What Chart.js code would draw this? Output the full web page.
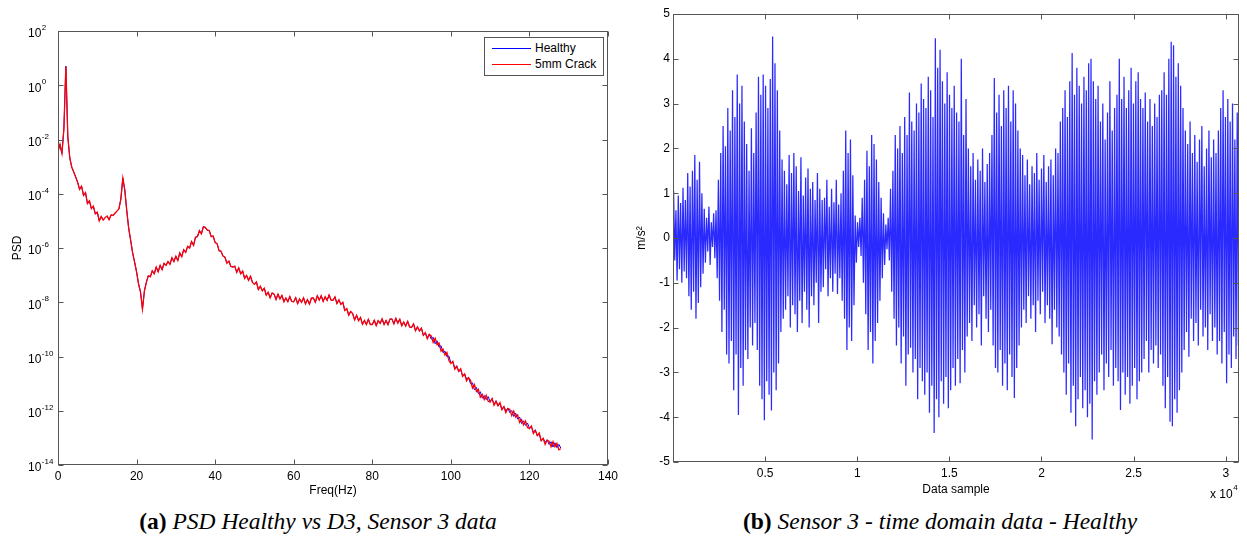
<!DOCTYPE html>
<html>
<head>
<meta charset="utf-8">
<script src="https://cdn.jsdelivr.net/npm/chart.js@4.4.0/dist/chart.umd.min.js"></script>
<style>
  body { margin: 0; background: #fff; width: 1247px; height: 536px; position: relative; overflow: hidden;
         font-family: "Liberation Sans", Arial, sans-serif; }
  #psdWrap { position: absolute; left: 0; top: 0; width: 625px; height: 500px; }
  #timeWrap { position: absolute; left: 625px; top: 0; width: 622px; height: 500px; }
  .caption { position: absolute; top: 507px; line-height: 28px; white-space: nowrap; transform: translateX(-50%);
             font-family: "Liberation Serif", "Times New Roman", serif; font-size: 23.5px; color: #000; }
  .caption i { font-style: italic; }
  #legend { position: absolute; left: 484px; top: 37px; width: 118px; height: 37px; background: #fff;
            border: 1px solid #555; font-size: 12px; color: #000; }
  #legend .row { position: absolute; left: 0; height: 14px; line-height: 14px; }
  #legend .swatch { position: absolute; left: 7px; top: 7px; width: 39px; height: 0; border-top: 1px solid; }
  #legend .label { position: absolute; left: 50px; top: 0; white-space: nowrap; }
</style>
</head>
<body>
<div id="psdWrap"><canvas id="psdChart" width="625" height="500"></canvas></div>
<div id="timeWrap"><canvas id="timeChart" width="622" height="500"></canvas></div>

<div id="legend">
  <div class="row" style="top:3px"><span class="swatch" style="border-color:#0000ff"></span><span class="label">Healthy</span></div>
  <div class="row" style="top:19px"><span class="swatch" style="border-color:#ff0000"></span><span class="label">5mm Crack</span></div>
</div>

<div class="caption" style="left:318px"><b>(a)</b> <i>PSD Healthy vs D3, Sensor 3 data</i></div>
<div class="caption" style="left:940px"><b>(b)</b> <i>Sensor 3 - time domain data - Healthy</i></div>

<script>
// PSD, every 0.5 Hz, stored as log10(PSD)
const psdStep = 0.5;
// 0 - 94.5 Hz: both curves sit on top of each other
const psdSharedExp = [
  -2.45, -2.18, -2.52, -1.6, 0.7, -1.9, -2.68, -3.02, -3.2, -3.38,
  -3.58, -3.84, -3.72, -4.06, -3.96, -4.36, -4.26, -4.55, -4.46, -4.74,
  -4.68, -5.0, -4.84, -4.97, -4.88, -4.82, -4.96, -4.78, -4.8, -4.72,
  -4.64, -4.56, -4.2, -3.42, -3.86, -4.62, -5.28, -5.72, -6.18, -6.52,
  -6.88, -7.32, -7.62, -8.25, -7.58, -7.26, -7.02, -7.06, -6.84, -6.95,
  -6.7, -6.88, -6.64, -6.8, -6.56, -6.64, -6.5, -6.6, -6.36, -6.5,
  -6.3, -6.46, -6.18, -6.32, -6.06, -6.16, -5.94, -6.0, -5.76, -5.9,
  -5.6, -5.58, -5.36, -5.48, -5.22, -5.24, -5.34, -5.36, -5.58, -5.56,
  -5.8, -5.84, -6.1, -6.12, -6.3, -6.34, -6.56, -6.48, -6.68, -6.7,
  -6.67, -6.9, -6.73, -6.95, -6.85, -7.12, -7.01, -7.19, -7.04, -7.27,
  -7.34, -7.25, -7.53, -7.41, -7.58, -7.48, -7.74, -7.63, -7.84, -7.66,
  -7.7, -7.9, -7.7, -7.88, -7.75, -7.98, -7.84, -7.98, -7.79, -7.97,
  -7.98, -7.83, -8.05, -7.88, -8.0, -7.84, -8.06, -7.9, -8.07, -7.85,
  -7.84, -8.0, -7.76, -7.92, -7.76, -7.97, -7.8, -7.93, -7.73, -7.92,
  -7.93, -7.8, -8.05, -7.91, -8.08, -8.0, -8.3, -8.23, -8.48, -8.34,
  -8.42, -8.65, -8.48, -8.68, -8.56, -8.81, -8.67, -8.82, -8.63, -8.82,
  -8.82, -8.66, -8.86, -8.68, -8.78, -8.61, -8.82, -8.67, -8.83, -8.62,
  -8.62, -8.8, -8.59, -8.77, -8.63, -8.87, -8.73, -8.88, -8.7, -8.91,
  -8.93, -8.8, -9.05, -8.91, -9.06, -8.95, -9.22, -9.12, -9.34, -9.18
];
// 95 - 128 Hz, where the two curves separate a little
const psdHealthyTailExp = [
  -9.36, -9.29, -9.53, -9.42, -9.66, -9.6, -9.86, -9.8, -10.01, -9.98,
  -10.24, -10.19, -10.44, -10.34, -10.56, -10.49, -10.73, -10.64, -10.83, -10.77,
  -11.0, -10.97, -11.23, -11.14, -11.37, -11.3, -11.54, -11.44, -11.59, -11.48,
  -11.66, -11.56, -11.77, -11.63, -11.83, -11.74, -11.96, -11.84, -12.0, -11.9,
  -12.07, -11.99, -12.21, -12.09, -12.31, -12.23, -12.47, -12.37, -12.54, -12.45,
  -12.64, -12.57, -12.81, -12.7, -12.93, -12.86, -13.11, -13.01, -13.17, -13.07,
  -13.24, -13.14, -13.34, -13.18, -13.36, -13.24, -13.38
];
const psdCrackTailExp = [
  -9.24, -9.48, -9.33, -9.57, -9.5, -9.8, -9.72, -9.95, -9.85, -10.15,
  -10.26, -10.18, -10.47, -10.37, -10.54, -10.45, -10.73, -10.65, -10.9, -10.78,
  -10.88, -11.16, -11.03, -11.29, -11.21, -11.5, -11.4, -11.59, -11.43, -11.65,
  -11.68, -11.55, -11.8, -11.66, -11.81, -11.7, -11.96, -11.85, -12.07, -11.91,
  -11.95, -12.18, -12.01, -12.24, -12.15, -12.43, -12.33, -12.52, -12.38, -12.62,
  -12.66, -12.56, -12.84, -12.73, -12.91, -12.82, -13.11, -13.02, -13.24, -13.08,
  -13.12, -13.33, -13.14, -13.33, -13.2, -13.44, -13.4
];
const freqTicks = [0, 20, 40, 60, 80, 100, 120, 140];
const psdTicks = [1e-14, 1e-12, 1e-10, 1e-8, 1e-6, 1e-4, 1e-2, 1e0, 1e2];

// time signal (m/s^2): one positive and one negative swing per 128 samples
const cycleLength = 128;
const swingPeaks = [
  1.05, 0.62, 0.95, 0.78, 1.12, 0.85,
  1.45, 1.15, 1.5, 1.85, 1.3, 1.7,
  1.0, 0.65, 0.45, 0.7, 0.35, 0.55, 0.62,
  1.3, 1.9, 2.5, 2.05,
  2.9, 2.4, 3.3, 2.7, 3.65, 3.0, 3.4, 2.6,
  2.1, 1.5, 2.45, 1.9,
  2.8, 3.6, 3.2, 3.65, 3.4, 2.9, 3.55, 4.5, 3.9, 3.3,
  2.4, 1.75, 1.5, 1.2, 1.85, 1.45,
  1.9, 1.6, 1.05, 1.8, 0.95, 1.35, 1.55, 1.1,
  1.25, 0.85, 1.45, 1.1,
  0.85, 0.9, 1.3, 0.7, 1.1, 0.8, 1.3, 0.75, 1.0,
  1.5, 2.4, 1.9, 2.2, 1.4,
  0.5, 0.35, 0.45,
  0.9, 1.3, 1.95, 1.6, 2.3, 2.1, 1.75, 1.25, 0.9,
  0.55, 0.3, 0.45,
  1.1, 1.5, 2.3, 2.0, 2.5, 1.9, 2.7, 2.3, 3.25, 2.6, 2.4, 3.0, 2.8, 3.45,
  3.1, 2.9, 3.6, 3.3, 2.7, 4.46, 3.8, 4.2, 3.5, 3.0, 3.7, 3.2, 2.9, 3.4, 2.8,
  2.6, 4.0, 2.3, 3.1,
  2.0, 1.6, 1.9, 1.3, 1.75, 1.5, 2.0, 1.25, 1.65, 1.9,
  2.3, 3.57, 2.8, 3.2, 2.5, 3.3, 2.9, 3.4, 2.6, 3.3, 3.0, 2.4, 2.0,
  1.85, 1.4, 1.75, 1.2, 1.6, 1.45, 1.9, 1.3, 1.55, 1.85, 1.25, 1.6, 1.75, 1.4, 2.0, 1.9,
  2.6, 2.9, 3.3, 2.7, 3.5, 4.13, 3.2, 3.8, 3.4, 3.0, 3.6, 3.3, 3.9, 4.0, 3.5, 3.1,
  3.4, 2.6, 3.0, 2.2, 2.8, 3.5, 2.4, 2.9,
  3.2, 4.0, 3.1, 3.6, 2.9, 3.3, 3.8, 3.0, 3.5, 3.7, 3.1,
  2.9, 3.25, 2.6, 3.1, 2.5, 3.0, 2.7, 3.2,
  3.3, 3.7, 3.2, 4.0, 4.38, 4.3, 3.6, 3.9, 3.4,
  2.9, 2.4, 2.1, 2.6, 1.9, 2.3, 1.7, 2.2, 2.5, 1.6, 2.0, 2.4, 1.8, 2.2, 1.9,
  2.4, 2.9, 3.3, 2.7, 3.1, 2.6, 3.0, 2.2, 2.8
];
const swingTroughs = [
  -0.5, -0.95, -0.7, -1.0, -0.75, -0.9,
  -1.3, -1.6, -1.2, -1.8, -1.45, -1.1,
  -0.8, -0.55, -0.3, -0.6, -0.2, -0.45, -0.9,
  -1.4, -2.1, -1.6, -2.6,
  -2.8, -2.3, -3.4, -2.6, -3.95, -2.9, -3.3, -2.5,
  -2.7, -2.0, -2.4, -1.9,
  -2.5, -3.3, -3.6, -4.07, -3.2, -3.5, -3.85, -3.0, -3.4, -2.8,
  -2.1, -1.8, -1.6, -1.3, -2.0, -1.5,
  -1.7, -2.1, -1.4, -1.9, -1.2, -1.6, -2.0, -1.3,
  -1.5, -1.0, -1.9, -1.2,
  -1.1, -0.7, -1.3, -0.9, -1.2, -0.8, -1.25, -0.9, -1.4,
  -1.8, -2.5, -2.0, -2.3, -1.5,
  -0.55, -0.2, -0.4,
  -1.0, -1.7, -2.5, -2.1, -2.8, -2.3, -1.9, -1.4, -0.9,
  -0.6, -0.25, -0.5,
  -1.2, -1.8, -2.4, -2.0, -2.8, -2.2, -3.3, -2.6, -2.45, -3.0, -2.7, -3.6, -2.9, -3.2,
  -3.5, -3.0, -3.9, -3.3, -4.35, -3.6, -4.0, -3.2, -3.7, -3.1, -3.8, -3.4, -2.9, -3.3, -2.7,
  -3.24, -2.5, -3.0, -2.2,
  -1.9, -2.3, -1.5, -2.0, -1.7, -2.4, -1.3, -1.8, -2.1, -1.6,
  -2.4, -2.9, -3.0, -2.5, -3.3, -2.8, -3.4, -2.6, -3.1, -3.57, -2.9, -2.4, -2.0,
  -1.6, -1.9, -1.3, -1.8, -1.5, -2.1, -1.4, -1.7, -1.2, -1.9, -1.5, -1.8, -2.37, -1.6, -2.0, -2.2,
  -2.6, -3.0, -3.5, -2.8, -3.9, -3.3, -4.2, -3.6, -3.1, -3.8, -3.4, -4.0, -3.7, -4.5, -3.2, -3.5,
  -3.0, -2.6, -3.4, -2.8, -3.1, -2.5, -3.3, -2.9,
  -3.2, -3.84, -3.0, -3.5, -3.1, -3.7, -3.3, -2.9, -3.6, -3.2, -3.0,
  -2.7, -2.3, -3.0, -2.5, -2.8, -2.4, -2.9, -2.6,
  -3.3, -3.8, -3.1, -4.1, -4.2, -3.6, -3.9, -3.4, -3.0,
  -2.5, -2.1, -2.65, -1.8, -2.3, -1.9, -2.4, -1.6, -2.2, -2.0, -2.5, -1.7, -2.3, -2.0, -2.6,
  -2.3, -2.8, -2.1, -3.24, -2.6, -2.9, -2.2, -2.7, -2.4
];
const timeTicks = [5000, 10000, 15000, 20000, 25000, 30000];
const valueTicks = [-5, -4, -3, -2, -1, 0, 1, 2, 3, 4, 5];

const axisFont = { family: '"Liberation Sans", Arial, sans-serif', size: 12 };

// build the point lists
function psdPoints(tail) {
  return psdSharedExp.concat(tail).map((e, i) => ({ x: i * psdStep, y: Math.pow(10, e) }));
}

const timePoints = [{ x: 1, y: 0.05 }];
const nSwings = Math.min(swingPeaks.length, swingTroughs.length);
for (let i = 0; i < nSwings; i++) {
  timePoints.push({ x: i * cycleLength + 32, y: swingPeaks[i] });
  timePoints.push({ x: i * cycleLength + 96, y: swingTroughs[i] });
}

// MATLAB style frame with inward ticks on all four sides
const boxTicks = {
  id: 'boxTicks',
  afterDatasetsDraw(chart) {
    const { ctx, chartArea: a, scales } = chart;
    const len = 5;
    const L = Math.round(a.left) + 0.5, R = Math.round(a.right) - 0.5;
    const T = Math.round(a.top) + 0.5, B = Math.round(a.bottom) - 0.5;
    ctx.save();
    ctx.strokeStyle = '#555';
    ctx.lineWidth = 1;
    ctx.beginPath();
    scales.x.ticks.forEach(t => {
      const px = Math.round(scales.x.getPixelForValue(t.value)) + 0.5;
      ctx.moveTo(px, B); ctx.lineTo(px, B - len);
      ctx.moveTo(px, T); ctx.lineTo(px, T + len);
    });
    scales.y.ticks.forEach(t => {
      const py = Math.round(scales.y.getPixelForValue(t.value)) + 0.5;
      ctx.moveTo(L, py); ctx.lineTo(L + len, py);
      ctx.moveTo(R, py); ctx.lineTo(R - len, py);
    });
    ctx.stroke();
    ctx.strokeRect(L, T, R - L, B - T);
    ctx.restore();
  }
};

// 10^n labels for the log axis
const powerLabels = {
  id: 'powerLabels',
  afterDraw(chart) {
    const { ctx } = chart;
    const y = chart.scales.y;
    ctx.save();
    ctx.fillStyle = '#000';
    ctx.textAlign = 'left';
    ctx.textBaseline = 'middle';
    y.ticks.forEach(t => {
      const py = y.getPixelForValue(t.value);
      const exp = Math.round(Math.log10(t.value));
      ctx.font = '12px "Liberation Sans", Arial, sans-serif';
      ctx.fillText('10', 28, py + 3);
      const w = ctx.measureText('10').width;
      ctx.font = '8px "Liberation Sans", Arial, sans-serif';
      ctx.fillText(String(exp), 28 + w + 0.5, py - 3);
    });
    ctx.restore();
  }
};

// "x 10^4" multiplier under the time axis
const axisMultiplier = {
  id: 'axisMultiplier',
  afterDraw(chart) {
    const { ctx } = chart;
    ctx.save();
    ctx.fillStyle = '#000';
    ctx.textAlign = 'left';
    ctx.textBaseline = 'middle';
    ctx.font = '12px "Liberation Sans", Arial, sans-serif';
    ctx.fillText('x 10', 585, 495);
    const w = ctx.measureText('x 10').width;
    ctx.font = '8px "Liberation Sans", Arial, sans-serif';
    ctx.fillText('4', 585 + w + 0.5, 488);
    ctx.restore();
  }
};

new Chart(document.getElementById('psdChart'), {
  type: 'line',
  data: {
    datasets: [
      { label: 'Healthy', data: psdPoints(psdHealthyTailExp), borderColor: '#0000ff', borderWidth: 1, pointRadius: 0, order: 2 },
      { label: '5mm Crack', data: psdPoints(psdCrackTailExp), borderColor: '#ff0000', borderWidth: 1.3, pointRadius: 0, order: 1 }
    ]
  },
  options: {
    responsive: false,
    animation: false,
    devicePixelRatio: 1,
    layout: { padding: { left: 8, top: 31, right: 17, bottom: 0 } },
    plugins: { legend: { display: false }, tooltip: { enabled: false } },
    scales: {
      x: {
        type: 'linear', min: 0, max: 140,
        afterBuildTicks: s => { s.ticks = freqTicks.map(v => ({ value: v })); },
        afterFit: s => { s.height = 35; },
        grid: { display: false, drawTicks: false },
        border: { display: false },
        ticks: { color: '#000', font: axisFont, padding: 4, maxRotation: 0, autoSkip: false },
        title: { display: true, text: 'Freq(Hz)', color: '#000', font: axisFont, padding: { top: 0, bottom: 2 } }
      },
      y: {
        type: 'logarithmic', min: 1e-14, max: 1e2,
        afterBuildTicks: s => { s.ticks = psdTicks.map(v => ({ value: v })); },
        afterFit: s => { s.width = 50; },
        grid: { display: false, drawTicks: false },
        border: { display: false },
        ticks: { display: false },
        title: { display: true, text: 'PSD', color: '#000', font: axisFont, padding: { top: 2, bottom: 0 } }
      }
    }
  },
  plugins: [boxTicks, powerLabels]
});

new Chart(document.getElementById('timeChart'), {
  type: 'line',
  data: {
    datasets: [
      { label: 'Healthy', data: timePoints, borderColor: '#2a2aff', borderWidth: 1.25, pointRadius: 0 }
    ]
  },
  options: {
    responsive: false,
    animation: false,
    devicePixelRatio: 1,
    layout: { padding: { left: 8, top: 14, right: 8, bottom: 0 } },
    plugins: { legend: { display: false }, tooltip: { enabled: false } },
    scales: {
      x: {
        type: 'linear', min: 1, max: 30720,
        afterBuildTicks: s => { s.ticks = timeTicks.map(v => ({ value: v })); },
        afterFit: s => { s.height = 38; },
        grid: { display: false, drawTicks: false },
        border: { display: false },
        ticks: { color: '#000', font: axisFont, padding: 4, maxRotation: 0, autoSkip: false,
                 callback: v => String(v / 10000) },
        title: { display: true, text: 'Data sample', color: '#000', font: axisFont, padding: { top: 0, bottom: 3 } }
      },
      y: {
        min: -5, max: 5,
        afterBuildTicks: s => { s.ticks = valueTicks.map(v => ({ value: v })); },
        afterFit: s => { s.width = 40; },
        grid: { display: false, drawTicks: false },
        border: { display: false },
        ticks: { color: '#000', font: axisFont, padding: 3 },
        title: { display: true, text: 'm/s²', color: '#000', font: axisFont, padding: { top: 1, bottom: 0 } }
      }
    }
  },
  plugins: [boxTicks, axisMultiplier]
});
</script>
</body>
</html>
